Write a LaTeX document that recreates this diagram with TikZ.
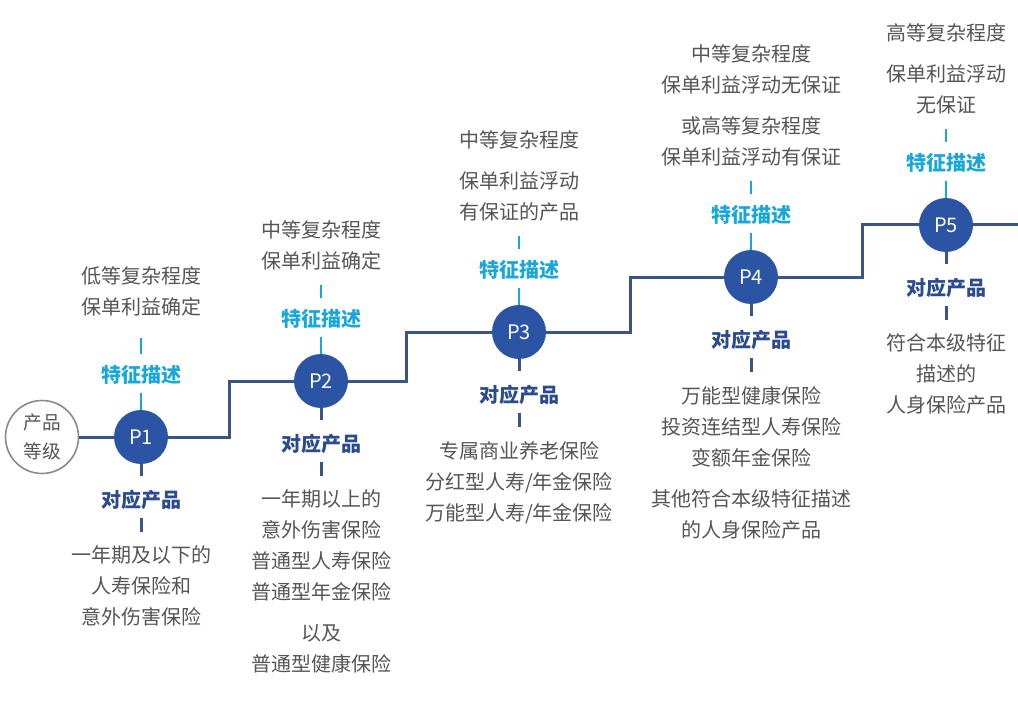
\documentclass[tikz,border=0pt]{standalone}
\usepackage{fontspec}
\setmainfont{Noto Sans CJK SC}
\usepackage{tikz}
\usetikzlibrary{positioning}
\definecolor{navy}{HTML}{2B55A4}
\definecolor{navyline}{HTML}{3A5483}
\definecolor{cyanblue}{HTML}{19A6DA}
\definecolor{prodblue}{HTML}{2C4B8E}
\definecolor{textgray}{HTML}{555555}
\definecolor{ringgray}{HTML}{8A8A8A}
\tikzstyle{level} = [circle, fill=navy, text=white, inner sep=0pt, minimum size=40.5pt, font=\fontsize{15}{18}\selectfont]
\tikzstyle{grade} = [circle, draw=ringgray, line width=1.2pt, fill=white, text=textgray, inner sep=0pt, minimum size=54.75pt, align=center, font=\fontsize{14}{21.5}\selectfont]
\tikzstyle{featlabel} = [inner sep=0pt, text=cyanblue, font=\fontsize{15}{18}\selectfont\bfseries]
\tikzstyle{prodlabel} = [inner sep=0pt, text=prodblue, font=\fontsize{15}{18}\selectfont\bfseries]
\tikzstyle{desc} = [inner sep=0pt, text=textgray, align=center, font=\fontsize{15}{23.25}\selectfont]
\tikzstyle{stepline} = [draw=navyline, line width=2.25pt]
\tikzstyle{fedge} = [draw=cyanblue, line width=2pt]
\tikzstyle{pedge} = [draw=navyline, line width=2.25pt]

\begin{document}
\begin{tikzpicture}[x=0.75pt, y=-0.75pt]
\useasboundingbox (0,0) rectangle (1018,706);

% levels =============================
\node[grade] (grade) at (42,437) {产品\\等级};
\node[level] (P1) at (141,437) {P1};
\node[level] (P2) at (321,381) {P2};
\node[level] (P3) at (519,332) {P3};
\node[level] (P4) at (751,277) {P4};
\node[level] (P5) at (946,225) {P5};

\coordinate (s12) at (229,409);
\coordinate (s23) at (406,356);
\coordinate (s34) at (630,304);
\coordinate (s45) at (862,251);
\coordinate (tail) at (1018,225);

% step line
\path[stepline] (grade) -- (P1);
\path[stepline] (P1) -| (s12) |- (P2);
\path[stepline] (P2) -| (s23) |- (P3);
\path[stepline] (P3) -| (s34) |- (P4);
\path[stepline] (P4) -| (s45) |- (P5);
\path[stepline] (P5) -- (tail);

% P1
\node[featlabel, above=19.1pt of P1] (f1) {特征描述};
\node[desc, above=35.9pt of f1] (d1) {低等复杂程度\\保单利益确定};
\node[prodlabel, below=19.5pt of P1] (c1) {对应产品};
\node[desc, below=26.6pt of c1] (r1) {一年期及以下的\\人寿保险和\\意外伤害保险};

% P2
\node[featlabel, above=19.1pt of P2] (f2) {特征描述};
\node[desc, above=29pt of f2] (d2) {中等复杂程度\\保单利益确定};
\node[prodlabel, below=19.5pt of P2] (c2) {对应产品};
\node[desc, below=26.6pt of c2] (r2) {一年期以上的\\意外伤害保险\\普通型人寿保险\\普通型年金保险\\[7.5pt]以及\\普通型健康保险};

% P3
\node[featlabel, above=19.1pt of P3] (f3) {特征描述};
\node[desc, above=29pt of f3] (d3) {中等复杂程度\\[7.5pt]保单利益浮动\\有保证的产品};
\node[prodlabel, below=19.5pt of P3] (c3) {对应产品};
\node[desc, below=26.6pt of c3] (r3) {专属商业养老保险\\分红型人寿/年金保险\\万能型人寿/年金保险};

% P4
\node[featlabel, above=19.1pt of P4] (f4) {特征描述};
\node[desc, above=29pt of f4] (d4) {中等复杂程度\\保单利益浮动无保证\\[7.5pt]或高等复杂程度\\保单利益浮动有保证};
\node[prodlabel, below=19.5pt of P4] (c4) {对应产品};
\node[desc, below=26.6pt of c4] (r4) {万能型健康保险\\投资连结型人寿保险\\变额年金保险\\[7.5pt]其他符合本级特征描述\\的人身保险产品};

% P5
\node[featlabel, above=19.1pt of P5] (f5) {特征描述};
\node[desc, above=29pt of f5] (d5) {高等复杂程度\\[7.5pt]保单利益浮动\\无保证};
\node[prodlabel, below=19.5pt of P5] (c5) {对应产品};
\node[desc, below=26.6pt of c5] (r5) {符合本级特征\\描述的\\人身保险产品};

% feature edges
\path[fedge, shorten <=6.4pt] (f1) -- (P1);
\path[fedge, shorten <=6.4pt] (f2) -- (P2);
\path[fedge, shorten <=6.4pt] (f3) -- (P3);
\path[fedge, shorten <=6.4pt] (f4) -- (P4);
\path[fedge, shorten <=6.4pt] (f5) -- (P5);

\path[fedge, shorten <=16pt, shorten >=7.9pt] (d1) -- (f1);
\path[fedge, shorten <=10.9pt, shorten >=7.9pt] (d2) -- (f2);
\path[fedge, shorten <=10.9pt, shorten >=7.9pt] (d3) -- (f3);
\path[fedge, shorten <=10.9pt, shorten >=7.9pt] (d4) -- (f4);
\path[fedge, shorten <=10.9pt, shorten >=7.9pt] (d5) -- (f5);

% product edges
\path[pedge, shorten >=10.9pt] (P1) -- (c1);
\path[pedge, shorten >=10.9pt] (P2) -- (c2);
\path[pedge, shorten >=10.9pt] (P3) -- (c3);
\path[pedge, shorten >=10.9pt] (P4) -- (c4);
\path[pedge, shorten >=10.9pt] (P5) -- (c5);

\path[pedge, shorten <=5.6pt, shorten >=10.1pt] (c1) -- (r1);
\path[pedge, shorten <=5.6pt, shorten >=10.1pt] (c2) -- (r2);
\path[pedge, shorten <=5.6pt, shorten >=10.1pt] (c3) -- (r3);
\path[pedge, shorten <=5.6pt, shorten >=10.1pt] (c4) -- (r4);
\path[pedge, shorten <=5.6pt, shorten >=10.1pt] (c5) -- (r5);

\end{tikzpicture}
\end{document}
